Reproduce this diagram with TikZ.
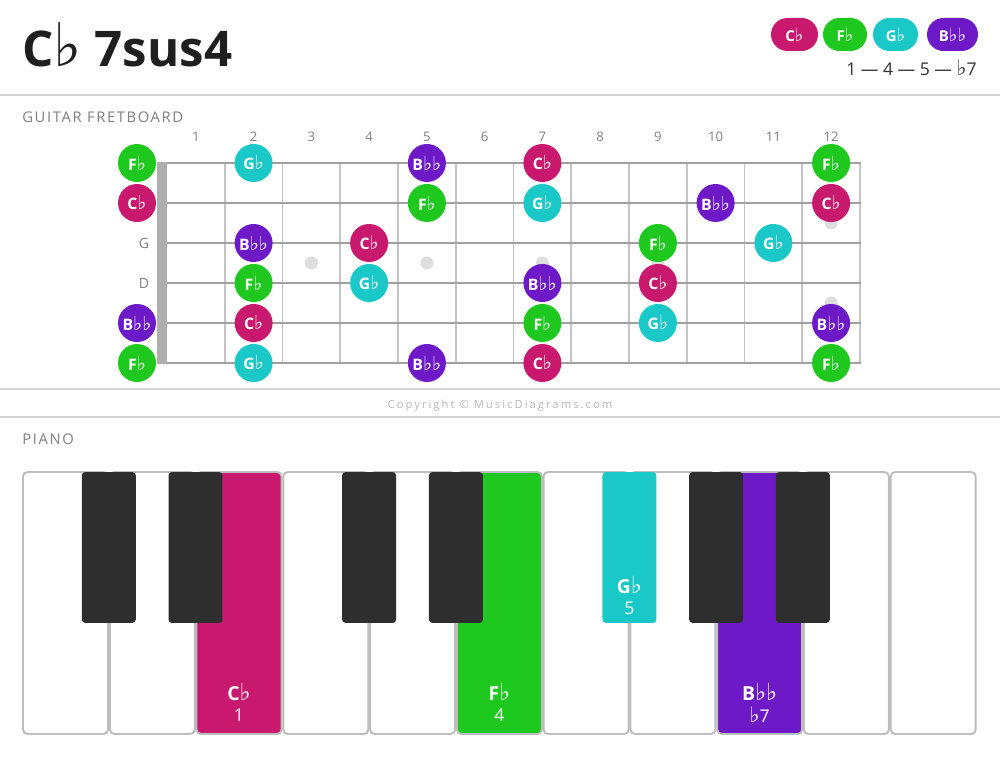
\documentclass[tikz,border=0pt]{standalone}
\usepackage{fontspec}
\setmainfont{Open Sans}
\newfontfamily\symfont{DejaVu Sans}
\newfontfamily\capsfont[LetterSpace=11]{Open Sans}
\newfontfamily\copyfont[LetterSpace=18]{Open Sans}
\usetikzlibrary{positioning}
\definecolor{rootcol}{HTML}{C8196E}
\definecolor{fourthcol}{HTML}{1EC81E}
\definecolor{fifthcol}{HTML}{1BC8C8}
\definecolor{seventhcol}{HTML}{6E19C8}
\definecolor{sepcol}{HTML}{D2D2D2}
\definecolor{stringcol}{HTML}{A0A0A0}
\definecolor{fretcol}{HTML}{C4C4C4}
\definecolor{labelcol}{HTML}{808080}
\definecolor{blackkey}{HTML}{2E2E2E}
\definecolor{keyline}{HTML}{BDBDBD}
\newcommand{\fl}{{\symfont\mdseries\scalebox{1.22}{\char"266D}}}
\begin{document}
\begin{tikzpicture}[x=0.02cm, y=-0.02cm,
main node/.style={circle,minimum size=.76cm,inner sep=0pt,text=white,font=\bfseries\fontsize{9}{9}\selectfont},
root node/.style={main node,fill=rootcol},
fourth node/.style={main node,fill=fourthcol},
fifth node/.style={main node,fill=fifthcol},
seventh node/.style={main node,fill=seventhcol},
pill/.style={rectangle,rounded corners=.33cm,minimum height=.66cm,inner sep=0pt,text=white,font=\bfseries\fontsize{8.5}{8.5}\selectfont},
fret num/.style={text=labelcol,font=\fontsize{7.5}{7.5}\selectfont},
white key/.style={rectangle,draw=keyline,line width=1.1pt,rounded corners=2.5pt,fill=white,minimum width=1.7cm,minimum height=5.24cm,inner sep=0pt},
black key/.style={rectangle,rounded corners=2pt,fill=blackkey,minimum width=1.08cm,minimum height=3.02cm,inner sep=0pt},
key name/.style={text=white,font=\bfseries\fontsize{11}{11}\selectfont},
key num/.style={text=white,font=\fontsize{10}{10}\selectfont},
sep line/.style={draw=sepcol,line width=1.2pt}]
\fill[white] (0,0) rectangle (1000,759);
\useasboundingbox (0,0) rectangle (1000,759);
% header
\node[anchor=base west,inner sep=0pt,font=\bfseries\fontsize{28}{28}\selectfont,text=black!88] (title) at (22,67) {C\fl\ 7sus4};
\node[pill,fill=rootcol,minimum width=.94cm] (p1) at (794.5,34.5) {C\fl};
\node[pill,fill=fourthcol,minimum width=.88cm] (p2) at (845,34.5) {F\fl};
\node[pill,fill=fifthcol,minimum width=.9cm] (p3) at (895.5,34.5) {G\fl};
\node[pill,fill=seventhcol,minimum width=1.02cm] (p4) at (952.5,34.5) {B\fl\fl};
\node[anchor=base east,inner sep=0pt,text=black!80,font=\fontsize{10}{10}\selectfont] (steps) at (977,76) {1 — 4 — 5 — \fl7};
\draw[sep line] (0,95) -- (1000,95);
% fretboard
\node[anchor=base west,inner sep=0pt,text=labelcol,font=\capsfont\fontsize{8.4}{8.4}\selectfont] (gtitle) at (22,123) {GUITAR FRETBOARD};
\node[fret num] (f1) at (195.9,137) {1};%1
\node[fret num] (f2) at (253.6,137) {2};%2
\node[fret num] (f3) at (311.4,137) {3};%3
\node[fret num] (f4) at (369.1,137) {4};%4
\node[fret num] (f5) at (426.9,137) {5};%5
\node[fret num] (f6) at (484.6,137) {6};%6
\node[fret num] (f7) at (542.4,137) {7};%7
\node[fret num] (f8) at (600.1,137) {8};%8
\node[fret num] (f9) at (657.9,137) {9};%9
\node[fret num] (f10) at (715.6,137) {10};%10
\node[fret num] (f11) at (773.4,137) {11};%11
\node[fret num] (f12) at (831.1,137) {12};%12
\begin{scope}[fretcol,line width=1.1pt]
\draw (224.75,163) -- (224.75,363);
\draw (282.5,163) -- (282.5,363);
\draw (340.25,163) -- (340.25,363);
\draw (398,163) -- (398,363);
\draw (455.75,163) -- (455.75,363);
\draw (513.5,163) -- (513.5,363);
\draw (571.25,163) -- (571.25,363);
\draw (629,163) -- (629,363);
\draw (686.75,163) -- (686.75,363);
\draw (744.5,163) -- (744.5,363);
\draw (802.25,163) -- (802.25,363);
\draw (860,163) -- (860,363);
\end{scope}
\begin{scope}[stringcol,line width=1.7pt]
\draw (162,163) -- (860.5,163);
\draw (162,203) -- (860.5,203);
\draw (162,243) -- (860.5,243);
\draw (162,283) -- (860.5,283);
\draw (162,323) -- (860.5,323);
\draw (162,363) -- (860.5,363);
\end{scope}
\fill[stringcol!85] (157,162) rectangle (167,364);
\begin{scope}[black!13]
\fill (311.4,263) circle (6.5);
\fill (426.9,263) circle (6.5);
\fill (542.4,263) circle (6.5);
\fill (657.9,263) circle (6.5);
\fill (831.1,223) circle (6.5);
\fill (831.1,303) circle (6.5);
\end{scope}
\node[fret num,font=\fontsize{8}{8}\selectfont] (sG) at (144,243) {G};
\node[fret num,font=\fontsize{8}{8}\selectfont] (sD) at (144,283) {D};
\node[fourth node] (s1f0) at (137,163) {F\fl};%1
\node[fifth node] (s1f2) at (253.6,163) {G\fl};
\node[seventh node] (s1f5) at (426.9,163) {B\fl\fl};
\node[root node] (s1f7) at (542.4,163) {C\fl};
\node[fourth node] (s1f12) at (831.1,163) {F\fl};
\node[root node] (s2f0) at (137,203) {C\fl};%2
\node[fourth node] (s2f5) at (426.9,203) {F\fl};
\node[fifth node] (s2f7) at (542.4,203) {G\fl};
\node[seventh node] (s2f10) at (715.6,203) {B\fl\fl};
\node[root node] (s2f12) at (831.1,203) {C\fl};
\node[seventh node] (s3f2) at (253.6,243) {B\fl\fl};%3
\node[root node] (s3f4) at (369.1,243) {C\fl};
\node[fourth node] (s3f9) at (657.9,243) {F\fl};
\node[fifth node] (s3f11) at (773.4,243) {G\fl};
\node[fourth node] (s4f2) at (253.6,283) {F\fl};%4
\node[fifth node] (s4f4) at (369.1,283) {G\fl};
\node[seventh node] (s4f7) at (542.4,283) {B\fl\fl};
\node[root node] (s4f9) at (657.9,283) {C\fl};
\node[seventh node] (s5f0) at (137,323) {B\fl\fl};%5
\node[root node] (s5f2) at (253.6,323) {C\fl};
\node[fourth node] (s5f7) at (542.4,323) {F\fl};
\node[fifth node] (s5f9) at (657.9,323) {G\fl};
\node[seventh node] (s5f12) at (831.1,323) {B\fl\fl};
\node[fourth node] (s6f0) at (137,363) {F\fl};%6
\node[fifth node] (s6f2) at (253.6,363) {G\fl};
\node[seventh node] (s6f5) at (426.9,363) {B\fl\fl};
\node[root node] (s6f7) at (542.4,363) {C\fl};
\node[fourth node] (s6f12) at (831.1,363) {F\fl};
\draw[sep line] (0,389) -- (1000,389);
\node[text=black!28,font=\copyfont\fontsize{6.4}{6.4}\selectfont] (copy) at (500,406) {Copyright © MusicDiagrams.com};
\draw[sep line] (0,417) -- (1000,417);
% piano
\node[anchor=base west,inner sep=0pt,text=labelcol,font=\capsfont\fontsize{8.4}{8.4}\selectfont] (ptitle) at (22,445) {PIANO};
\node[white key] (w1) at (65.5,603) {};%1
\node[white key] (w2) at (152.3,603) {};%2
\node[white key,fill=rootcol] (w3) at (239,603) {};%3
\node[white key] (w4) at (325.8,603) {};%4
\node[white key] (w5) at (412.6,603) {};%5
\node[white key,fill=fourthcol] (w6) at (499.4,603) {};%6
\node[white key] (w7) at (586.1,603) {};%7
\node[white key] (w8) at (672.9,603) {};%8
\node[white key,fill=seventhcol] (w9) at (759.7,603) {};%9
\node[white key] (w10) at (846.4,603) {};%10
\node[white key] (w11) at (933.2,603) {};%11
\node[black key] (b1) at (108.8,547.5) {};%1
\node[black key] (b2) at (195.5,547.5) {};%2
\node[black key] (b3) at (369.1,547.5) {};%3
\node[black key] (b4) at (455.9,547.5) {};%4
\node[black key,fill=fifthcol] (b5) at (629.4,547.5) {};%5
\node[black key] (b6) at (716.2,547.5) {};%6
\node[black key] (b7) at (802.9,547.5) {};%7
\node[key name] (n1) at (239,692) {C\fl};
\node[key num] (i1) at (239,715) {1};
\node[key name] (n4) at (499.4,692) {F\fl};
\node[key num] (i4) at (499.4,715) {4};
\node[key name] (n5) at (629.4,585) {G\fl};
\node[key num] (i5) at (629.4,608) {5};
\node[key name] (n7) at (759.7,692) {B\fl\fl};
\node[key num] (i7) at (759.7,715) {\fl7};
\end{tikzpicture}
\end{document}
